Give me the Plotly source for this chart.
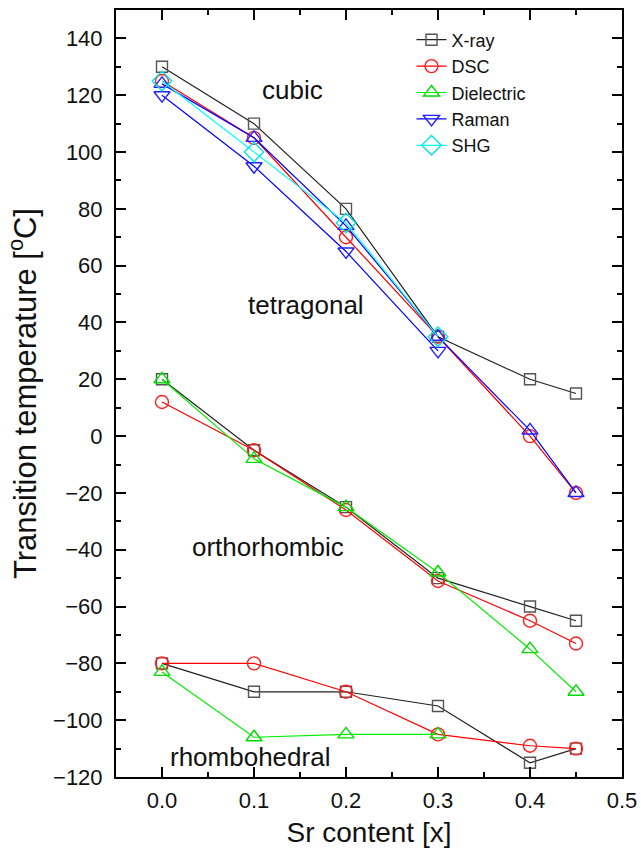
import plotly.graph_objects as go

# ---- data ----
x_full = [0.0, 0.1, 0.2, 0.3, 0.4, 0.45]
x_four = [0.0, 0.1, 0.2, 0.3]

xray_upper = [130, 110, 80, 35, 20, 15]
xray_middle = [20, -5, -25, -50, -60, -65]
xray_lower = [-80, -90, -90, -95, -115, -110]

dsc_upper = [125, 105, 70, 35, 0, -20]
dsc_middle = [12, -5, -26, -51, -65, -73]
dsc_lower = [-80, -80, -90, -105, -109, -110]

diel_middle = [20, -8, -25, -48, -75, -90]
diel_lower = [-83, -106, -105, -105]

raman_upper = [120, 95, 65, 30]
blue_up_upper = [124, 105, 74, 35, 2, -20]

shg_upper = [125, 100, 75, 35]

legend_names = ["X-ray", "DSC", "Dielectric", "Raman", "SHG"]

phase_labels = ["cubic", "tetragonal", "orthorhombic", "rhombohedral"]
phase_x = [0.142, 0.156, 0.115, 0.096]
phase_y = [122, 46, -39, -113]

FONT = "Liberation Sans, Arial, sans-serif"

fig = go.Figure()


def add(xs, ys, name, color, edge, symbol, show, size=12):
    fig.add_trace(go.Scatter(
        x=xs, y=ys, mode="lines+markers", name=name,
        showlegend=show,
        line=dict(color=color, width=1.2),
        marker=dict(symbol=symbol, size=size, color=edge,
                    line=dict(color=edge, width=1.4)),
    ))


add(x_full, xray_upper, legend_names[0], "#222222", "#555555", "square-open", True, 11)
add(x_full, xray_middle, legend_names[0], "#222222", "#555555", "square-open", False, 11)
add(x_full, xray_lower, legend_names[0], "#222222", "#555555", "square-open", False, 11)

add(x_full, dsc_upper, legend_names[1], "#ff0000", "#ff2020", "circle-open", True, 13)
add(x_full, dsc_middle, legend_names[1], "#ff0000", "#ff2020", "circle-open", False, 13)
add(x_full, dsc_lower, legend_names[1], "#ff0000", "#ff2020", "circle-open", False, 13)

add(x_full, diel_middle, legend_names[2], "#00ee00", "#00dd00", "triangle-up-open", True, 14)
add(x_four, diel_lower, legend_names[2], "#00ee00", "#00dd00", "triangle-up-open", False, 14)

add(x_four, raman_upper, legend_names[3], "#0000ff", "#2020ff", "triangle-down-open", True, 14)
add(x_full, blue_up_upper, legend_names[3], "#0000ff", "#2020ff", "triangle-up-open", False, 14)

add(x_four, shg_upper, legend_names[4], "#00ffff", "#00e5e5", "diamond-open", True, 15)

for lab, px, py in zip(phase_labels, phase_x, phase_y):
    fig.add_annotation(x=px, y=py, text=lab, showarrow=False,
                       font=dict(family=FONT, size=26, color="#111111"))

axis_common = dict(
    showline=True, linecolor="black", linewidth=2, mirror="ticks",
    ticks="inside", ticklen=10, tickwidth=2, tickcolor="black",
    showgrid=False, zeroline=False, automargin=False,
    tickfont=dict(family=FONT, size=22, color="#111111"),
)

fig.update_xaxes(
    range=[-0.05, 0.5], dtick=0.1, tick0=0, tickformat=".1f",
    minor=dict(ticks="inside", ticklen=5, tickwidth=2, tickcolor="black", dtick=0.05, tick0=0),
    title=dict(text="Sr content [x]", font=dict(family=FONT, size=28, color="#111111"), standoff=10),
    ticklabelstandoff=3,
    **axis_common,
)
fig.update_yaxes(
    range=[-120, 150], dtick=20, tick0=0,
    minor=dict(ticks="inside", ticklen=5, tickwidth=2, tickcolor="black", dtick=10, tick0=0),
    title=dict(text="Transition temperature [<sup>o</sup>C]", font=dict(family=FONT, size=31, color="#111111"), standoff=7),
    ticklabelstandoff=7,
    **axis_common,
)

fig.update_layout(
    width=641, height=856,
    margin=dict(l=116, r=19, t=10, b=79),
    paper_bgcolor="white", plot_bgcolor="white",
    legend=dict(x=0.584, y=0.985, xanchor="left", yanchor="top",
                bgcolor="rgba(0,0,0,0)", font=dict(family=FONT, size=18, color="#111111"),
                tracegroupgap=0),
    showlegend=True,
)

fig.write_html("out.html")
